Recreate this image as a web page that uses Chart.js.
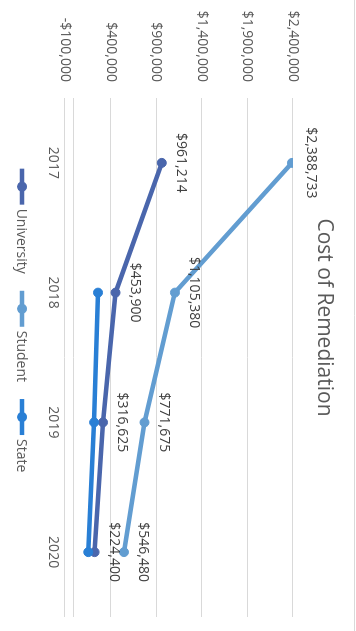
<!DOCTYPE html>
<html lang="en">
<head>
<meta charset="UTF-8">
<title>Cost of Remediation</title>
<script src="https://cdn.jsdelivr.net/npm/chart.js"></script>
<style>
    html, body { margin: 0; padding: 0; background: #fff; overflow: hidden; }
    /* o grafico e desenhado deitado (631x356) e girado 90 graus */
    #caixa {
        position: absolute; left: 356px; top: 0;
        width: 631px; height: 356px;
        transform-origin: 0 0; transform: rotate(90deg);
    }
</style>
</head>
<body>
<div id="caixa">
    <canvas id="grafico" width="631" height="356"></canvas>
</div>

<script>
    // dados
    const titulo = 'Cost of Remediation';
    const anos = ['2017', '2018', '2019', '2020'];
    const university = [961214, 453900, 316625, 224400];
    const student = [2388733, 1105380, 771675, 546480];
    const state = [null, 262000, 219000, 155000];

    const eixoMin = -100000;
    const eixoMax = 2400000;
    const eixoPasso = 500000;

    const fonte = "'Open Sans', 'Liberation Sans', sans-serif";
    const cinza = '#595959';

    function dinheiro(v) {
        const s = '$' + Math.abs(v).toLocaleString('en-US');
        return v < 0 ? '-' + s : s;
    }

    // titulo, linha do zero, rotulos, legenda e borda
    const extras = {
        id: 'extras',
        beforeDatasetsDraw(chart) {
            const ctx = chart.ctx;
            const a = chart.chartArea;
            const y = Math.round(chart.scales.y.getPixelForValue(0)) + 0.5;
            ctx.save();
            ctx.strokeStyle = '#d9d9d9';
            ctx.lineWidth = 1;
            ctx.beginPath();
            ctx.moveTo(a.left, y);
            ctx.lineTo(a.right, y);
            ctx.stroke();
            ctx.restore();
        },
        afterDatasetsDraw(chart) {
            const ctx = chart.ctx;
            ctx.save();
            ctx.font = '14px ' + fonte;
            ctx.fillStyle = '#404040';
            ctx.textAlign = 'center';
            ctx.textBaseline = 'middle';
            chart.data.datasets.forEach(function (ds, i) {
                if (!ds.rotulos) return;
                chart.getDatasetMeta(i).data.forEach(function (p, j) {
                    if (ds.data[j] == null) return;
                    ctx.fillText(dinheiro(ds.data[j]), p.x, p.y - 19);
                });
            });
            ctx.restore();
        },
        afterDraw(chart) {
            const ctx = chart.ctx;
            ctx.save();
            // borda de cima
            ctx.strokeStyle = '#d9d9d9';
            ctx.lineWidth = 1;
            ctx.beginPath();
            ctx.moveTo(0, 1.5);
            ctx.lineTo(chart.width, 1.5);
            ctx.stroke();

            // titulo
            ctx.font = '21px ' + fonte;
            ctx.fillStyle = cinza;
            ctx.textAlign = 'center';
            ctx.textBaseline = 'middle';
            ctx.fillText(titulo, chart.width / 2 + 2, 32);

            // legenda
            ctx.font = '14px ' + fonte;
            ctx.textAlign = 'left';
            const linha = 36, gap = 4, entre = 17;
            const itens = chart.data.datasets.map(function (ds) {
                return { ds: ds, w: linha + gap + ctx.measureText(ds.label).width };
            });
            let total = itens.reduce(function (s, it) { return s + it.w; }, 0) + entre * (itens.length - 1);
            let x = chart.width / 2 + 5 - total / 2;
            const y = 334;
            itens.forEach(function (it) {
                ctx.strokeStyle = it.ds.borderColor;
                ctx.lineWidth = 4.5;
                ctx.beginPath();
                ctx.moveTo(x, y);
                ctx.lineTo(x + linha, y);
                ctx.stroke();
                ctx.fillStyle = it.ds.borderColor;
                ctx.beginPath();
                ctx.arc(x + linha / 2, y, 5, 0, Math.PI * 2);
                ctx.fill();
                ctx.fillStyle = cinza;
                ctx.fillText(it.ds.label, x + linha + gap, y + 1);
                x += it.w + entre;
            });
            ctx.restore();
        }
    };

    function serie(nome, valores, cor, ordem, rotulos) {
        return {
            label: nome,
            data: valores,
            borderColor: cor,
            backgroundColor: cor,
            borderWidth: 4.5,
            pointRadius: 4.5,
            pointBorderWidth: 1,
            pointBackgroundColor: cor,
            tension: 0,
            order: ordem,
            rotulos: rotulos
        };
    }

    const dados = {
        labels: anos,
        datasets: [
            serie('University', university, '#4A66AC', 2, true),
            serie('Student', student, '#629DD1', 1, true),
            serie('State', state, '#297FD5', 0, false)
        ]
    };

    const config = {
        type: 'line',
        data: dados,
        plugins: [extras],
        options: {
            responsive: false,
            animation: false,
            devicePixelRatio: 1,
            layout: { padding: { top: 63, right: 14, bottom: 0, left: 0 } },
            plugins: {
                legend: { display: false },
                tooltip: { enabled: false },
                title: { display: false }
            },
            scales: {
                x: {
                    offset: true,
                    grid: { display: false, drawTicks: false },
                    border: { display: false },
                    ticks: { color: cinza, font: { family: fonte, size: 14 }, padding: 4 },
                    afterFit: function (s) { s.height = 65; }
                },
                y: {
                    min: eixoMin,
                    max: eixoMax,
                    grid: { color: '#d9d9d9', drawTicks: false },
                    border: { display: false },
                    ticks: {
                        stepSize: eixoPasso,
                        color: cinza,
                        font: { family: fonte, size: 14 },
                        padding: 16,
                        callback: function (v) { return dinheiro(v); }
                    },
                    afterFit: function (s) { s.width = 98; }
                }
            }
        }
    };

    new Chart(document.getElementById('grafico'), config);
</script>
</body>
</html>
